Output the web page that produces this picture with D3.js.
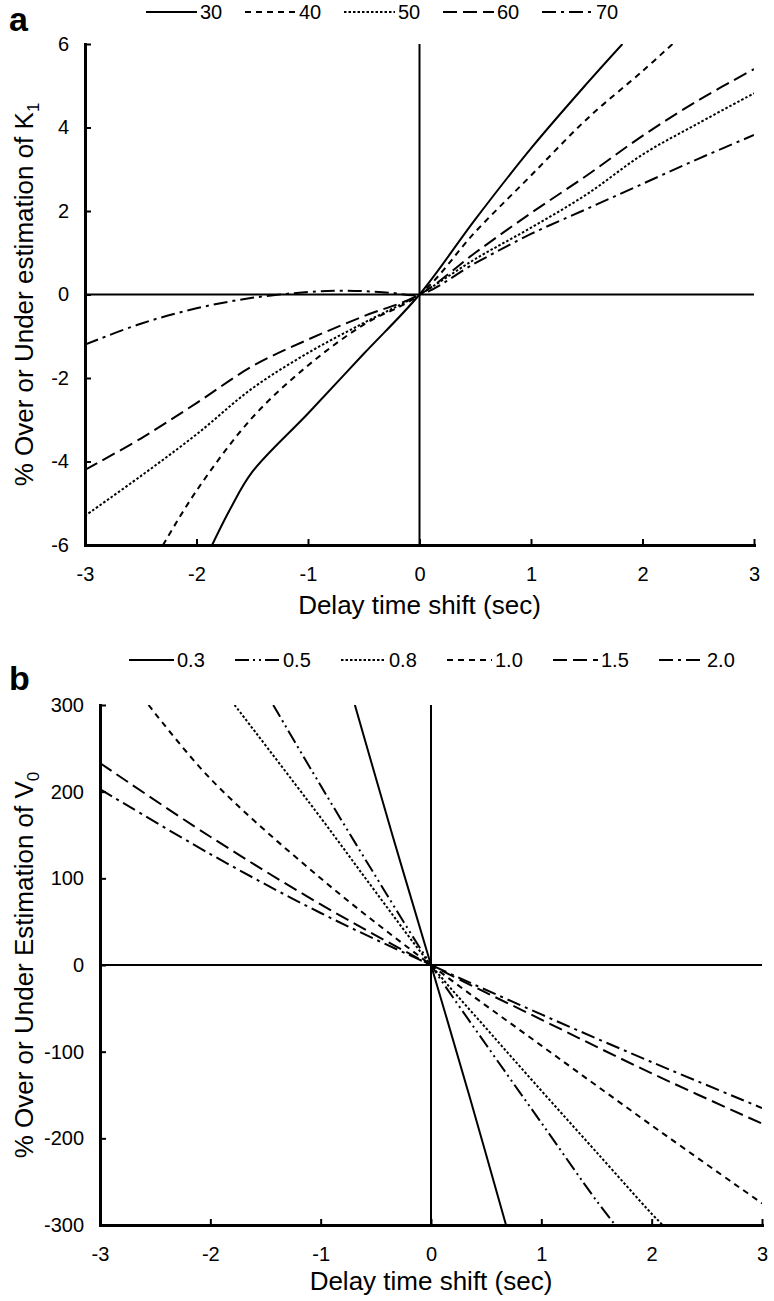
<!DOCTYPE html>
<html><head><meta charset="utf-8">
<script src="https://cdn.jsdelivr.net/npm/d3@7"></script>
<style>
body{margin:0;background:#fff}
svg{display:block}
text{font-family:"Liberation Sans",Arial,sans-serif;fill:#000}
</style>
</head><body>
<svg id="c" width="774" height="1301"></svg>
<script>
// ---------- DATA: panel a ----------
const seriesA = ["30", "40", "50", "60", "70"];
const a30x = [-1.86, -1.7, -1.5, -1, -0.5, 0, 0.5, 1, 1.5, 1.82];
const a30y = [-6, -5.15, -4.25, -2.85, -1.42, 0, 1.8, 3.5, 5.05, 6];
const a40x = [-2.3, -2, -1.5, -1, -0.5, 0, 0.5, 1, 1.5, 2, 2.27];
const a40y = [-6, -4.7, -2.95, -1.7, -0.72, 0, 1.5, 2.85, 4.2, 5.35, 6];
const a50x = [-3, -2.5, -2, -1.5, -1, -0.5, 0, 0.5, 1, 1.5, 2, 2.5, 3];
const a50y = [-5.3, -4.35, -3.35, -2.25, -1.4, -0.68, 0, 0.85, 1.6, 2.4, 3.35, 4.1, 4.82];
const a60x = [-3, -2.5, -2, -1.5, -1, -0.5, 0, 0.5, 1, 1.5, 2, 2.5, 3];
const a60y = [-4.2, -3.45, -2.6, -1.72, -1.08, -0.52, 0, 1.0, 1.95, 2.85, 3.8, 4.65, 5.4];
const a70x = [-3, -2.5, -2, -1.5, -1, -0.75, -0.5, -0.25, 0, 0.5, 1, 1.5, 2, 2.5, 3];
const a70y = [-1.2, -0.7, -0.33, -0.08, 0.06, 0.09, 0.08, 0.04, 0, 0.75, 1.45, 2.05, 2.65, 3.25, 3.82];
const aXTicks = [-3, -2, -1, 0, 1, 2, 3];
const aYTicks = [-6, -4, -2, 0, 2, 4, 6];

// ---------- DATA: panel b ----------
const seriesB = ["0.3", "0.5", "0.8", "1.0", "1.5", "2.0"];
const b03x = [-0.69, -0.35, 0, 0.35, 0.68];
const b03y = [300, 150, 0, -152, -300];
const b05x = [-1.43, -1, -0.5, 0, 0.5, 1, 1.5, 1.67];
const b05y = [300, 207, 102, 0, -92, -182, -272, -300];
const b08x = [-1.78, -1, -0.5, 0, 0.5, 1, 1.5, 2, 2.1];
const b08y = [300, 170, 84, 0, -73, -145, -216, -287, -300];
const b10x = [-2.56, -2, -1, 0, 1, 2, 3];
const b10y = [300, 215, 100, 0, -93, -185, -275];
const b15x = [-3, -2, -1, 0, 1, 2, 3];
const b15y = [233, 148, 70, 0, -63, -125, -183];
const b20x = [-3, -2, -1, 0, 1, 2, 3];
const b20y = [203, 128, 60, 0, -57, -112, -165];
const bXTicks = [-3, -2, -1, 0, 1, 2, 3];
const bYTicks = [-300, -200, -100, 0, 100, 200, 300];

// ---------- STYLES ----------
const dashA = {"30": null, "40": "6,5", "50": "2.5,2", "60": "14,6", "70": "14,5,3,5"};
const dashB = {"0.3": null, "0.5": "14,4,2,4,2,4", "0.8": "2.5,2", "1.0": "6,5", "1.5": "14,6", "2.0": "14,5,3,5"};

const svg = d3.select("#c");

function zip(xs, ys) { return xs.map((x, i) => ({x: x, y: ys[i]})); }
const fmt = d => String(d); // plain hyphen-minus like the reference

function panel(cfg) {
  const x = d3.scaleLinear().domain([-3, 3]).range([cfg.left, cfg.right]);
  const y = d3.scaleLinear().domain(cfg.yDomain).range([cfg.bottom, cfg.top]);
  const g = svg.append("g");
  const clipId = "clip" + cfg.id;
  svg.append("defs").append("clipPath").attr("id", clipId)
    .append("rect").attr("x", cfg.left).attr("y", cfg.top)
    .attr("width", cfg.right - cfg.left).attr("height", cfg.bottom - cfg.top);

  // zero lines
  g.append("line").attr("x1", x(-3)).attr("x2", x(3)).attr("y1", y(0)).attr("y2", y(0))
    .attr("stroke", "#000").attr("stroke-width", 2);
  g.append("line").attr("x1", x(0)).attr("x2", x(0)).attr("y1", cfg.top).attr("y2", cfg.bottom)
    .attr("stroke", "#000").attr("stroke-width", 2);

  // series
  const line = d3.line().x(d => x(d.x)).y(d => y(d.y)).curve(d3.curveCatmullRom.alpha(0.5));
  const lg = g.append("g").attr("clip-path", `url(#${clipId})`);
  cfg.series.forEach((s, i) => {
    lg.append("path").datum(zip(cfg.xs[i], cfg.ys[i]))
      .attr("d", line).attr("fill", "none").attr("stroke", "#000")
      .attr("stroke-width", 2).attr("stroke-dasharray", cfg.dash[s]);
  });

  // axes
  const ax = g.append("g").attr("transform", `translate(0,${cfg.bottom})`)
    .call(d3.axisBottom(x).tickValues(cfg.xTicks).tickSizeInner(-6).tickSizeOuter(0).tickPadding(22)
      .tickFormat(fmt));
  const ay = g.append("g").attr("transform", `translate(${cfg.left},0)`)
    .call(d3.axisLeft(y).tickValues(cfg.yTicks).tickSizeInner(-6).tickSizeOuter(0).tickPadding(16)
      .tickFormat(fmt));
  [ax, ay].forEach(a => {
    a.select(".domain").attr("stroke", "#000").attr("stroke-width", 3).attr("stroke-linecap", "square");
    a.selectAll(".tick line").attr("stroke", "#000").attr("stroke-width", 2);
    a.selectAll(".tick text").attr("font-size", 20).attr("fill", "#000")
      .attr("font-family", "Liberation Sans, Arial, sans-serif");
  });

  // axis titles
  g.append("text").attr("x", (cfg.left + cfg.right) / 2).attr("y", cfg.bottom + cfg.titleOff)
    .attr("text-anchor", "middle").attr("font-size", 26).text("Delay time shift (sec)");
  const yt = g.append("text").attr("text-anchor", "middle").attr("font-size", 26)
    .attr("transform", `translate(33,${(cfg.top + cfg.bottom) / 2}) rotate(-90)`);
  yt.append("tspan").text(cfg.yTitle);
  yt.append("tspan").attr("font-size", 17).attr("dy", 6).text(cfg.yTitleSub);

  // panel letter
  g.append("text").attr("x", 9).attr("y", cfg.letterY).attr("font-size", 34)
    .attr("font-weight", "bold").text(cfg.letter);

  // legend
  const lgd = g.append("g");
  cfg.series.forEach((s, i) => {
    const x0 = cfg.legX + i * cfg.legStep;
    lgd.append("line").attr("x1", x0).attr("x2", x0 + cfg.legLen)
      .attr("y1", cfg.legY).attr("y2", cfg.legY)
      .attr("stroke", "#000").attr("stroke-width", 2).attr("stroke-dasharray", cfg.dash[s]);
    lgd.append("text").attr("x", x0 + cfg.legLen + 3).attr("y", cfg.legY + 7)
      .attr("font-size", 20).text(s);
  });
}

panel({
  id: "a", letter: "a", letterY: 31, titleOff: 69,
  left: 85, right: 754, top: 44, bottom: 545, yDomain: [-6, 6],
  series: seriesA, xs: [a30x, a40x, a50x, a60x, a70x], ys: [a30y, a40y, a50y, a60y, a70y],
  dash: dashA, xTicks: aXTicks, yTicks: aYTicks,
  yTitle: "% Over or Under estimation of K", yTitleSub: "1",
  legX: 146, legStep: 99, legLen: 51, legY: 12
});

panel({
  id: "b", letter: "b", letterY: 690, titleOff: 65,
  left: 100, right: 762, top: 705, bottom: 1225, yDomain: [-300, 300],
  series: seriesB, xs: [b03x, b05x, b08x, b10x, b15x, b20x], ys: [b03y, b05y, b08y, b10y, b15y, b20y],
  dash: dashB, xTicks: bXTicks, yTicks: bYTicks,
  yTitle: "% Over or Under Estimation of V", yTitleSub: "0",
  legX: 129, legStep: 106, legLen: 45, legY: 660
});
</script>
</body></html>
